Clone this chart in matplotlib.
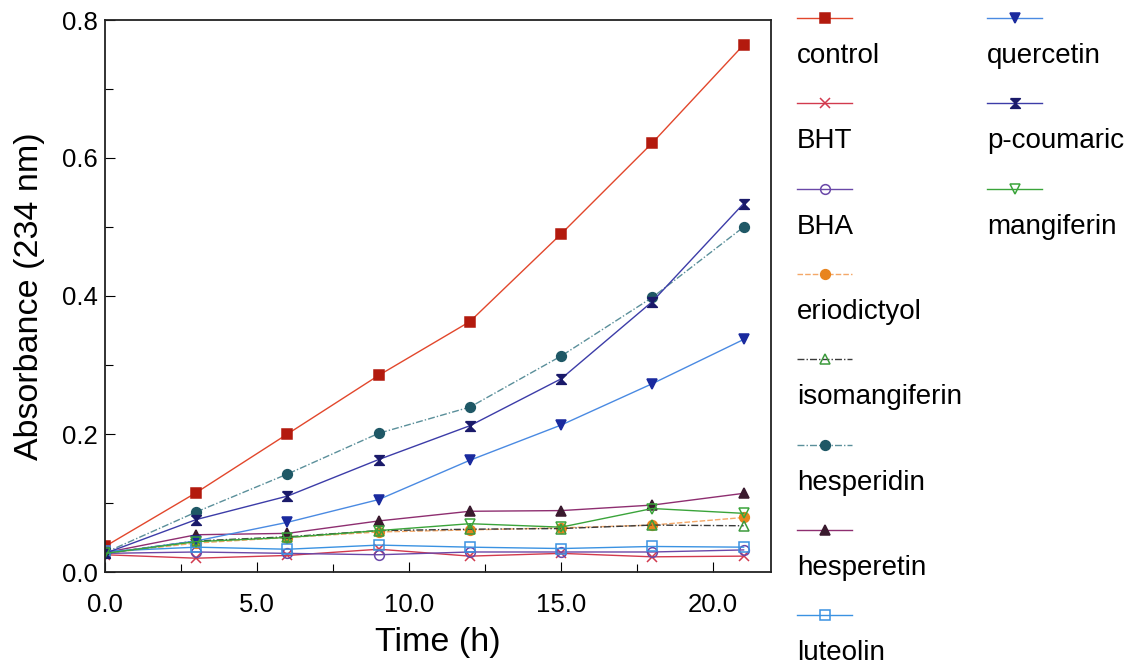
import numpy as np
import matplotlib
matplotlib.use("Agg")
from matplotlib import pyplot as plt
from matplotlib.ticker import MultipleLocator, FormatStrFormatter

plt.rcParams['font.family'] = ['Liberation Sans', 'DejaVu Sans']

# data
hours = [0, 3, 6, 9, 12, 15, 18, 21]
control = [0.037, 0.115, 0.200, 0.285, 0.363, 0.490, 0.622, 0.764]
bht = [0.025, 0.020, 0.024, 0.033, 0.023, 0.027, 0.022, 0.023]
bha = [0.027, 0.029, 0.027, 0.025, 0.029, 0.029, 0.029, 0.032]
eriodictyol = [0.027, 0.042, 0.050, 0.058, 0.061, 0.064, 0.068, 0.079]
isomangiferin = [0.027, 0.045, 0.051, 0.060, 0.062, 0.063, 0.068, 0.067]
hesperidin = [0.028, 0.087, 0.142, 0.201, 0.239, 0.313, 0.398, 0.500]
hesperetin = [0.028, 0.054, 0.056, 0.074, 0.088, 0.089, 0.097, 0.114]
luteolin = [0.030, 0.036, 0.033, 0.039, 0.036, 0.034, 0.037, 0.036]
quercetin = [0.027, 0.045, 0.072, 0.105, 0.162, 0.213, 0.273, 0.337]
p_coumaric = [0.027, 0.076, 0.110, 0.163, 0.212, 0.280, 0.392, 0.534]
mangiferin = [0.027, 0.044, 0.050, 0.060, 0.070, 0.065, 0.092, 0.085]

hourglass = [(-1, 1), (1, 1), (-1, -1), (1, -1), (-1, 1)]

# name, values, line colour, marker, marker face, marker edge, linestyle
series = [
    ('control', control, '#e2472c', 's', '#b31a0e', '#b31a0e', '-'),
    ('BHT', bht, '#d23a4e', 'x', 'none', '#d23a4e', '-'),
    ('BHA', bha, '#6a48a8', 'o', 'none', '#6a48a8', '-'),
    ('eriodictyol', eriodictyol, '#f4a868', 'o', '#e8841e', '#e8841e', (0, (4, 1.5))),
    ('isomangiferin', isomangiferin, '#3a3a3a', '^', 'none', '#3c9a3c', (0, (5, 1.5, 1, 1.5))),
    ('hesperidin', hesperidin, '#5a8f9a', 'o', '#1f5866', '#1f5866', (0, (5, 1.5, 1, 1.5))),
    ('hesperetin', hesperetin, '#8e2e70', '^', '#3a1a2e', '#3a1a2e', '-'),
    ('luteolin', luteolin, '#3a92e2', 's', 'none', '#3a92e2', '-'),
    ('quercetin', quercetin, '#4a8ae2', 'v', '#1a2a9e', '#1a2a9e', '-'),
    ('p-coumaric', p_coumaric, '#3c3ca8', hourglass, '#1a1a6a', '#1a1a6a', '-'),
    ('mangiferin', mangiferin, '#3aa43a', 'v', 'none', '#3aa43a', '-'),
]

fig = plt.figure(figsize=(11.39, 6.68), dpi=100)
ax = fig.add_axes([105 / 1139, 1 - 572 / 668, 666 / 1139, 552 / 668])

for name, vals, lc, mk, mfc, mec, ls in series:
    ax.plot(hours, vals, color=lc, linestyle=ls, linewidth=1.0,
            marker=mk, markersize=7, markerfacecolor=mfc,
            markeredgecolor=mec, markeredgewidth=1.1)

ax.set_xlim(0, 21.9)
ax.set_ylim(0, 0.8)
ax.xaxis.set_major_locator(MultipleLocator(5))
ax.xaxis.set_minor_locator(MultipleLocator(2.5))
ax.yaxis.set_major_locator(MultipleLocator(0.2))
ax.yaxis.set_minor_locator(MultipleLocator(0.1))
ax.xaxis.set_major_formatter(FormatStrFormatter('%.1f'))
ax.yaxis.set_major_formatter(FormatStrFormatter('%.1f'))
ax.tick_params(axis='both', which='both', direction='in', width=0.8)
ax.tick_params(axis='both', which='major', length=7, labelsize=18.5)
ax.tick_params(axis='both', which='minor', length=6)
ax.tick_params(axis='x', which='major', pad=15)
ax.tick_params(axis='y', which='major', pad=5)
ax.tick_params(top=False, right=False, which='both')
for sp in ax.spines.values():
    sp.set_linewidth(1.3)
    sp.set_color('#222222')

ax.set_xlabel('Time (h)', fontsize=24.5)
ax.set_ylabel('Absorbance (234 nm)', fontsize=24.5, va='center')
ax.xaxis.set_label_coords(0.5, -0.10)
ax.yaxis.set_label_coords(-0.113, 0.5)

# legend: handle above label, two columns (pixel layout)
lax = fig.add_axes([0, 0, 1, 1])
lax.set_xlim(0, 1139)
lax.set_ylim(668, 0)
lax.axis('off')
col_x = [797, 987]
row_h = 85.3
for i, (name, vals, lc, mk, mfc, mec, ls) in enumerate(series):
    col = 0 if i < 8 else 1
    row = i if i < 8 else i - 8
    hy = 18 + row * row_h
    x0 = col_x[col]
    lax.plot([x0, x0 + 55], [hy, hy], color=lc, linestyle=ls, linewidth=1.0)
    lax.plot([x0 + 27.5], [hy], marker=mk, markersize=7, markerfacecolor=mfc,
             markeredgecolor=mec, markeredgewidth=1.1, linestyle='none')
    lax.text(x0, hy + 38, name, fontsize=20, ha='left', va='center')

fig.savefig('out.png', dpi=100)
